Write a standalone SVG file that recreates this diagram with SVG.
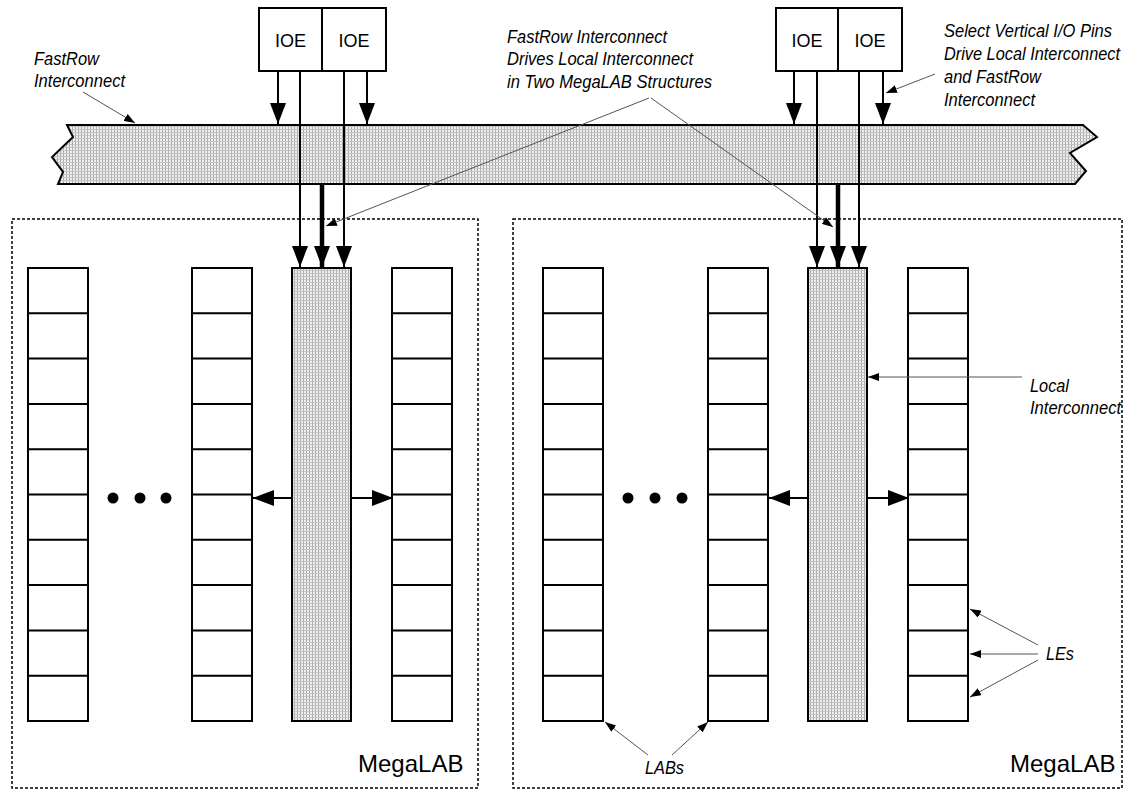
<svg xmlns="http://www.w3.org/2000/svg" width="1135" height="791" viewBox="0 0 1135 791">
<style>
.lbl{font-family:"Liberation Sans",Arial,sans-serif;font-style:italic;font-size:17.5px;fill:#000}
.ioe{font-family:"Liberation Sans",Arial,sans-serif;font-size:18px;text-anchor:middle;fill:#000}
.mega{font-family:"Liberation Sans",Arial,sans-serif;font-size:24px;fill:#000}
.box{fill:#fff;stroke:#000;stroke-width:2}
.shade{fill:url(#dots);stroke:#000;stroke-width:2}
.row{stroke:#000;stroke-width:2}
.wire{stroke:#000;stroke-width:2;fill:none}
.thick{stroke:#000;stroke-width:4.5;fill:none}
.call{stroke:#555;stroke-width:1;fill:none}
.border{fill:none;stroke:#000;stroke-width:1.5;stroke-dasharray:3 2}
</style>
<defs>
<pattern id="dots" patternUnits="userSpaceOnUse" width="3" height="3">
<rect width="3" height="3" fill="#efefef"/>
<rect width="1" height="3" fill="#a9a9a9"/>
<rect width="3" height="1" fill="#c4c4c4"/>
</pattern>
<marker id="big" markerUnits="userSpaceOnUse" markerWidth="21" markerHeight="16" refX="21" refY="8" orient="auto">
<path d="M0,0 L21,8 L0,16 z" fill="#000"/>
</marker>
<marker id="small" markerUnits="userSpaceOnUse" markerWidth="11" markerHeight="8" refX="11" refY="4" orient="auto">
<path d="M0,0 L11,4 L0,8 z" fill="#000"/>
</marker>
<g id="labcol">
<rect x="0" y="0" width="60" height="453" class="box"/>
<path class="row" d="M0,45.3H60M0,90.6H60M0,135.9H60M0,181.2H60M0,226.5H60M0,271.8H60M0,317.1H60M0,362.4H60M0,407.7H60"/>
</g>
</defs>

<g id="megalab-left">
<rect class="border" x="12" y="219" width="466" height="569"/>
<text class="mega" x="358" y="772">MegaLAB</text>
</g>
<g id="megalab-right">
<rect class="border" x="513" y="219" width="609" height="569"/>
<text class="mega" x="1010" y="772">MegaLAB</text>
</g>

<g id="fastrow-bus">
<polygon points="67,125 1083,125 1097,137 1070,153 1086,171 1075,184 58,184 63,172 52,157 73,137" fill="url(#dots)" stroke="#000" stroke-width="2" stroke-linejoin="miter"/>
</g>

<g id="ioe-1"><rect class="box" x="259" y="8" width="63" height="63"/><text class="ioe" x="290.5" y="47">IOE</text></g>
<g id="ioe-2"><rect class="box" x="322" y="8" width="64" height="63"/><text class="ioe" x="354" y="47">IOE</text></g>
<g id="ioe-3"><rect class="box" x="776" y="8" width="62" height="63"/><text class="ioe" x="807" y="47">IOE</text></g>
<g id="ioe-4"><rect class="box" x="838" y="8" width="64" height="63"/><text class="ioe" x="870" y="47">IOE</text></g>

<g id="lab-l1"><use href="#labcol" x="28" y="268"/></g>
<g id="lab-l2"><use href="#labcol" x="192" y="268"/></g>
<g id="local-l"><rect class="shade" x="292" y="268" width="59" height="453"/></g>
<g id="lab-l3"><use href="#labcol" x="392" y="268"/></g>
<g id="dots-l" fill="#000"><circle cx="113" cy="498" r="5.5"/><circle cx="140" cy="498" r="5.5"/><circle cx="166" cy="498" r="5.5"/></g>

<g id="lab-r1"><use href="#labcol" x="543" y="268"/></g>
<g id="lab-r2"><use href="#labcol" x="708" y="268"/></g>
<g id="local-r"><rect class="shade" x="808" y="268" width="59" height="453"/></g>
<g id="lab-r3"><use href="#labcol" x="908" y="268"/></g>
<g id="dots-r" fill="#000"><circle cx="628" cy="498" r="5.5"/><circle cx="655" cy="498" r="5.5"/><circle cx="682" cy="498" r="5.5"/></g>

<g id="connectors">
<path class="wire" d="M278,71V124" marker-end="url(#big)"/>
<path class="wire" d="M367,71V124" marker-end="url(#big)"/>
<path class="wire" d="M794,71V124" marker-end="url(#big)"/>
<path class="wire" d="M883,71V124" marker-end="url(#big)"/>
<path class="wire" d="M300,71V267" marker-end="url(#big)"/>
<path class="wire" d="M344,71V267" marker-end="url(#big)"/>
<path class="thick" d="M322,184V267" marker-end="url(#big)"/>
<path class="wire" d="M817,71V267" marker-end="url(#big)"/>
<path class="wire" d="M859,71V267" marker-end="url(#big)"/>
<path class="thick" d="M838,184V267" marker-end="url(#big)"/>
<path class="wire" d="M292,498H253" marker-end="url(#big)"/>
<path class="wire" d="M351,498H393" marker-end="url(#big)"/>
<path class="wire" d="M808,498H769" marker-end="url(#big)"/>
<path class="wire" d="M867,498H909" marker-end="url(#big)"/>
<path class="call" d="M83,92L135,123" marker-end="url(#small)"/>
<path class="call" d="M649,98L326,226" marker-end="url(#small)"/>
<path class="call" d="M651,98L833,227" marker-end="url(#small)"/>
<path class="call" d="M935,74L886,93" marker-end="url(#small)"/>
<path class="call" d="M1022,377H868" marker-end="url(#small)"/>
<path class="call" d="M1038,645L970,609" marker-end="url(#small)"/>
<path class="call" d="M1038,654H970" marker-end="url(#small)"/>
<path class="call" d="M1038,660L970,697" marker-end="url(#small)"/>
<path class="call" d="M648,755L605,722" marker-end="url(#small)"/>
<path class="call" d="M672,755L708,722" marker-end="url(#small)"/>
</g>

<g id="labels">
<text class="lbl" x="34" y="65" textLength="65" lengthAdjust="spacingAndGlyphs">FastRow</text>
<text class="lbl" x="34" y="87" textLength="91" lengthAdjust="spacingAndGlyphs">Interconnect</text>
<text class="lbl" x="507" y="43" textLength="160" lengthAdjust="spacingAndGlyphs">FastRow Interconnect</text>
<text class="lbl" x="507" y="65" textLength="186" lengthAdjust="spacingAndGlyphs">Drives Local Interconnect</text>
<text class="lbl" x="507" y="88" textLength="205" lengthAdjust="spacingAndGlyphs">in Two MegaLAB Structures</text>
<text class="lbl" x="944" y="37" textLength="168" lengthAdjust="spacingAndGlyphs">Select Vertical I/O Pins</text>
<text class="lbl" x="944" y="60" textLength="176" lengthAdjust="spacingAndGlyphs">Drive Local Interconnect</text>
<text class="lbl" x="944" y="83" textLength="97" lengthAdjust="spacingAndGlyphs">and FastRow</text>
<text class="lbl" x="944" y="106" textLength="91" lengthAdjust="spacingAndGlyphs">Interconnect</text>
<text class="lbl" x="1030" y="392" textLength="39" lengthAdjust="spacingAndGlyphs">Local</text>
<text class="lbl" x="1030" y="414" textLength="91" lengthAdjust="spacingAndGlyphs">Interconnect</text>
<text class="lbl" x="1046" y="660" textLength="28" lengthAdjust="spacingAndGlyphs">LEs</text>
<text class="lbl" x="645" y="774" textLength="39" lengthAdjust="spacingAndGlyphs">LABs</text>
</g>
</svg>
